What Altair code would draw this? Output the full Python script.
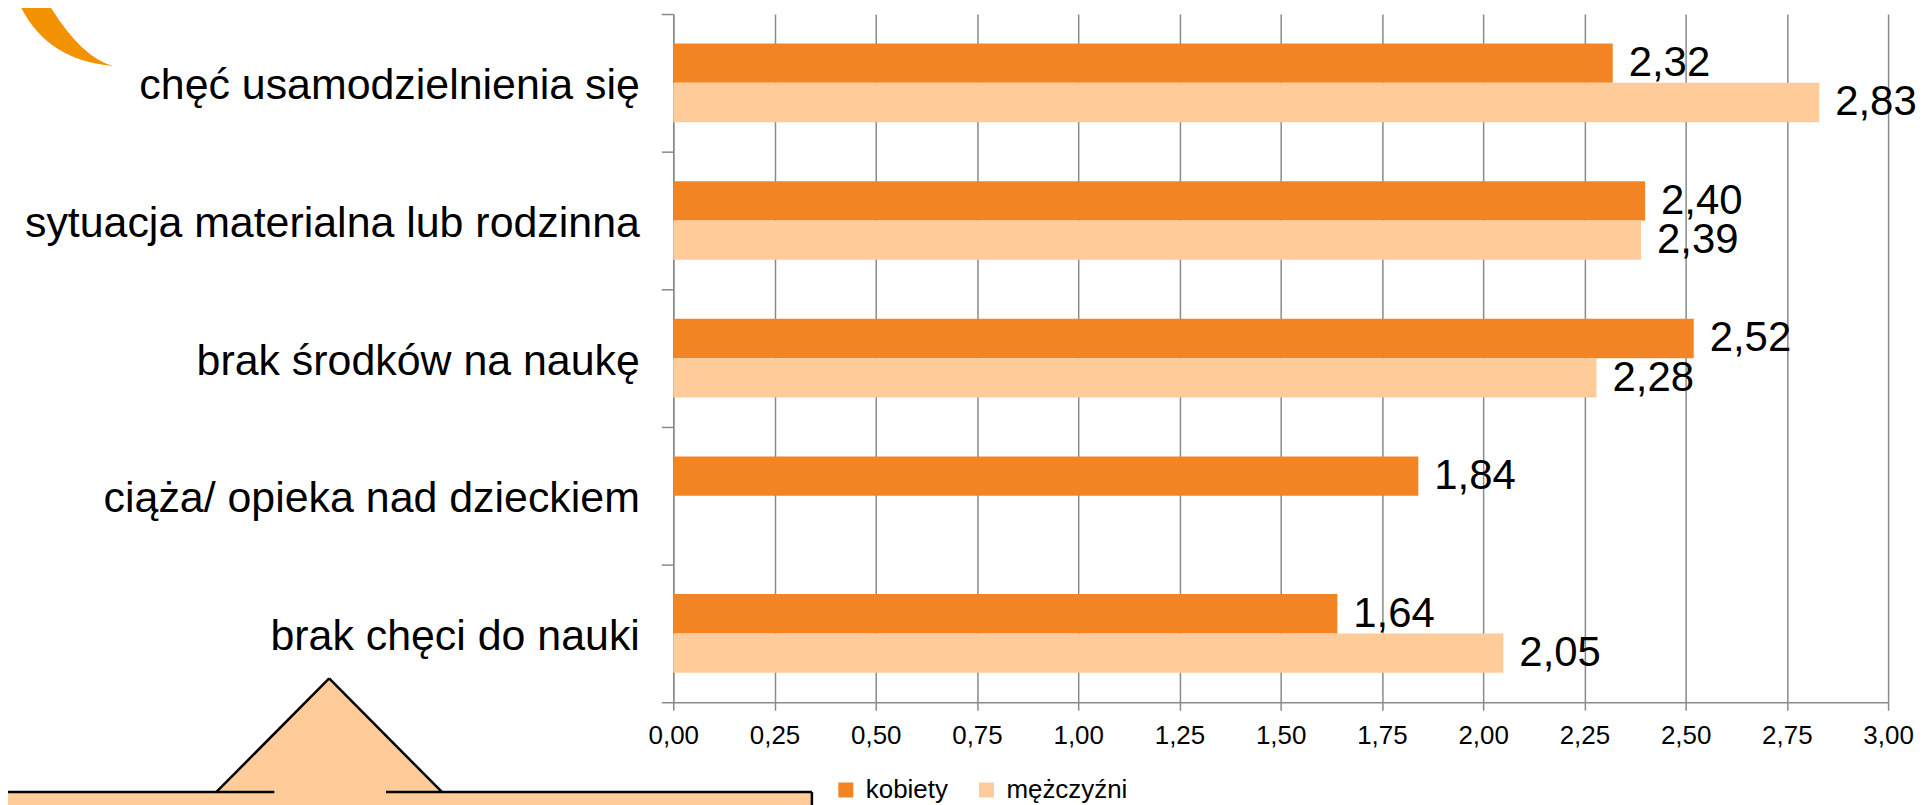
import altair as alt
import pandas as pd

# ---- data ----
categories = [
    "chęć usamodzielnienia się",
    "sytuacja materialna lub rodzinna\u00a0",
    "brak środków na naukę\u00a0",
    "ciąża/ opieka nad dzieckiem",
    "brak chęci do nauki",
]
series = ["kobiety", "mężczyźni"]
kobiety = [2.32, 2.40, 2.52, 1.84, 1.64]
mezczyzni = [2.83, 2.39, 2.28, None, 2.05]
x_ticks = [0.0, 0.25, 0.5, 0.75, 1.0, 1.25, 1.5, 1.75, 2.0, 2.25, 2.5, 2.75, 3.0]
colors = ["#F28423", "#FFCC99"]

rows = []
for cat, k, m in zip(categories, kobiety, mezczyzni):
    rows.append({"category": cat, "series": series[0], "value": k})
    if m is not None:
        rows.append({"category": cat, "series": series[1], "value": m})
df = pd.DataFrame(rows)

FONT = "Liberation Sans"
GRID = "#8A8A8A"
W, H = 1218, 690

# ---- slide decorations (pixel positions relative to plot origin) ----
one = pd.DataFrame({"k": [0]})
PEACH = "#FFCC99"
box = alt.Chart(one).mark_rect(color=PEACH).encode(
    x=alt.value(-680), x2=alt.value(139), y=alt.value(780), y2=alt.value(820)
)
tri_path = "M-1,0.5044L0,-0.5044L1,0.5044Z"
tri = alt.Chart(one).mark_point(
    shape=tri_path, size=51076, filled=True, color=PEACH, opacity=1, strokeWidth=0
).encode(x=alt.value(-345), y=alt.value(723))

segments = [
    (-458, 780, -345, 666),
    (-345, 666, -232, 780),
    (-680, 780, -400, 780),
    (-288, 780, 139, 780),
    (139, 780, 139, 820),
]
rules = [
    alt.Chart(one).mark_rule(color="black", strokeWidth=2.5).encode(
        x=alt.value(a), y=alt.value(b), x2=alt.value(c), y2=alt.value(d)
    )
    for a, b, c, d in segments
]
crescent_path = (
    "M-0.55,-0.5L-0.42,-0.3Q-0.155,0.295 0.53,0.35"
    "Q0.2,0.26 -0.13,-0.3L-0.25,-0.5Z"
)
crescent = alt.Chart(one).mark_point(
    shape=crescent_path, size=40000, filled=True, color="#F39200", opacity=1, strokeWidth=0
).encode(x=alt.value(-615), y=alt.value(17))

# ---- main chart ----
base = alt.Chart(df).transform_calculate(
    label="replace(format(datum.value, '.2f'), '.', ',')"
).encode(
    y=alt.Y(
        "category:N",
        scale=alt.Scale(domain=categories, paddingInner=0, paddingOuter=0),
        axis=alt.Axis(
            title=None, tickBand="extent", tickSize=12, tickWidth=1.5,
            tickColor=GRID, domainColor=GRID, domainWidth=1.5,
            labelFont=FONT, labelFontSize=43, labelColor="black",
            labelPadding=22, labelLimit=900, labelOffset=3, grid=False,
        ),
    ),
    yOffset=alt.YOffset(
        "series:N", scale=alt.Scale(domain=series, range=[29.6, 108.4])
    ),
    x=alt.X(
        "value:Q",
        scale=alt.Scale(domain=[0, 3], nice=False),
        axis=alt.Axis(
            title=None, values=x_ticks, grid=True, gridColor=GRID, gridWidth=1.5,
            tickSize=8, tickWidth=1.5, tickColor=GRID, domainColor=GRID, domainWidth=1.5,
            labelFont=FONT, labelFontSize=26, labelColor="black", labelPadding=12,
            labelFlush=False, labelOverlap=False,
            labelExpr="replace(format(datum.value, '.2f'), '.', ',')",
        ),
    ),
)

bars = base.mark_bar().encode(
    color=alt.Color(
        "series:N",
        scale=alt.Scale(domain=series, range=colors),
        title=None,
        legend=alt.Legend(
            orient="none", legendX=160, legendY=765, direction="horizontal",
            symbolType="square", symbolSize=225, symbolStrokeWidth=0,
            labelFont=FONT, labelFontSize=26, labelColor="black",
            labelOffset=7, columnPadding=25, padding=0,
        ),
    )
)

text = base.mark_text(
    align="left", baseline="middle", dx=16, font=FONT, fontSize=42, color="black"
).encode(text="label:N")

chart = alt.layer(box, tri, *rules, crescent, bars, text).properties(
    width=W,
    height=H,
    autosize=alt.AutoSizeParams(type="none"),
    padding={"left": 667, "top": 5, "right": 30, "bottom": 102},
).configure_view(strokeWidth=0)

chart.save("out.html", embed_options={"renderer": "svg", "actions": False})
